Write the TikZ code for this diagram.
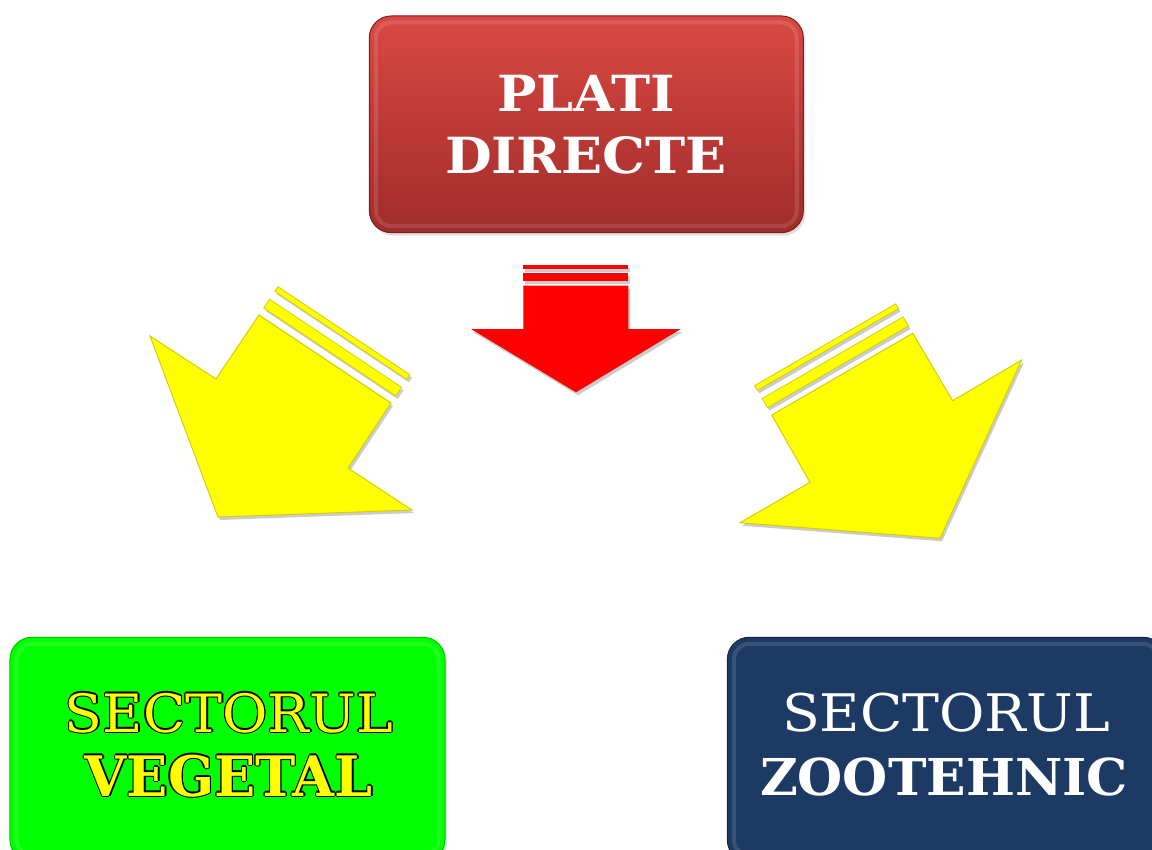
\documentclass[tikz,border=0pt]{standalone}
\usepackage{fontspec}
\usepackage{graphicx}
\setmainfont{DejaVu Serif}
\usetikzlibrary{calc,shadows}
\definecolor{redtop}{RGB}{218,72,66}
\definecolor{redbot}{RGB}{160,44,42}
\definecolor{arred}{RGB}{255,0,0}
\definecolor{ayel}{RGB}{255,255,0}
\definecolor{yedge}{RGB}{212,208,0}
\definecolor{vgreen}{RGB}{0,255,0}
\definecolor{gedge}{RGB}{0,200,0}
\definecolor{navy}{RGB}{29,58,100}
\definecolor{navyedge}{RGB}{20,40,72}
\newsavebox\fitbox
\newcommand\fitw[2]{\sbox\fitbox{#2}\pgfmathsetmacro\fitx{#1*1.00375/\the\wd\fitbox}\scalebox{\fitx}[1]{\usebox\fitbox}}
\newlength\ow
\setlength\ow{1.3pt}
\newcommand\olsh[3]{\makebox[0pt][l]{\hspace*{#1}\raisebox{#2}{\color{black}#3}}}
\newcommand\outl[1]{\olsh{\ow}{0pt}{#1}\olsh{-\ow}{0pt}{#1}\olsh{0pt}{\ow}{#1}\olsh{0pt}{-\ow}{#1}\olsh{.7\ow}{.7\ow}{#1}\olsh{-.7\ow}{.7\ow}{#1}\olsh{.7\ow}{-.7\ow}{#1}\olsh{-.7\ow}{-.7\ow}{#1}{\color{ayel}#1}}
\newcommand\stripe[5]{\fill[#5] ($(#1)!#3!90:(#2)$) -- ($(#2)!#3!-90:(#1)$) -- ($(#2)!#4!-90:(#1)$) -- ($(#1)!#4!90:(#2)$) -- cycle;}
\begin{document}
\begin{tikzpicture}[x=1bp,y=-1bp,
  txt/.style={inner sep=0pt, anchor=base},
  boxbase/.style={rounded corners=22bp, inner sep=0pt, line width=1bp,
     drop shadow={shadow xshift=2bp, shadow yshift=-3bp, opacity=.25}},
  bevel/.style={white, opacity=.12, line width=4bp, rounded corners=16bp},
  shad/.style={black!45, opacity=.45},
  yarrow/.style={fill=ayel, draw=yedge, line width=1bp, line join=miter},
  ystripe/.style={fill=ayel, draw=yedge, line width=.8bp},
  rarrow/.style={fill=arred}]
\useasboundingbox (0,0) rectangle (1152,850);
\fill[white] (0,0) rectangle (1152,850);

% boxes
\node[boxbase, top color=redtop, bottom color=redbot, draw=redbot!75!black,
      minimum width=434bp, minimum height=216.7bp] (pd) at (586.3,124.3) {};
\draw[bevel] ($(pd.south west)+(7,-7)$) rectangle ($(pd.north east)+(-7,7)$);
\node[boxbase, fill=vgreen, draw=gedge,
      minimum width=435bp, minimum height=224.7bp] (sv) at (227.5,749.6) {};
\draw[bevel] ($(sv.south west)+(7,-7)$) rectangle ($(sv.north east)+(-7,7)$);
\node[boxbase, fill=navy, draw=navyedge,
      minimum width=437.7bp, minimum height=224.7bp] (sz) at (946.2,749.6) {};
\draw[bevel] ($(sz.south west)+(7,-7)$) rectangle ($(sz.north east)+(-7,7)$);

% arrow coordinates
\coordinate (L1) at (150,336);
\coordinate (L2) at (216,379);
\coordinate (L3) at (259,315);
\coordinate (L4) at (391,403);
\coordinate (L5) at (348,468);
\coordinate (L6) at (412,510);
\coordinate (L7) at (218,517);
\coordinate (R1) at (740,522.7);
\coordinate (R2) at (810,482.3);
\coordinate (R3) at (771.7,415);
\coordinate (R4) at (912.7,333.3);
\coordinate (R5) at (952.7,400.7);
\coordinate (R6) at (1021.7,360);
\coordinate (R7) at (940,538.3);
\coordinate (A1) at (523.3,285.7);
\coordinate (A2) at (628.3,285.7);
\coordinate (A3) at (628.3,329);
\coordinate (A4) at (680.7,329);
\coordinate (A5) at (576,392.3);
\coordinate (A6) at (471,329);
\coordinate (A7) at (523.3,329);

% shadows of arrows
\begin{scope}[transform canvas={shift={(2bp,-3bp)}}]
  \fill[shad] (L1) -- (L2) -- (L3) -- (L4) -- (L5) -- (L6) -- (L7) -- cycle;
  \stripe{L3}{L4}{8.5bp}{19bp}{shad}
  \stripe{L3}{L4}{28.5bp}{34bp}{shad}
  \fill[shad] (R1) -- (R2) -- (R3) -- (R4) -- (R5) -- (R6) -- (R7) -- cycle;
  \stripe{R3}{R4}{8.5bp}{19bp}{shad}
  \stripe{R3}{R4}{28.5bp}{34bp}{shad}
  \fill[shad] (A1) -- (A2) -- (A3) -- (A4) -- (A5) -- (A6) -- (A7) -- cycle;
  \stripe{A1}{A2}{4.7bp}{12.4bp}{shad}
  \stripe{A1}{A2}{16.7bp}{20.7bp}{shad}
\end{scope}

% arrows
\filldraw[yarrow] (L1) -- (L2) -- (L3) -- (L4) -- (L5) -- (L6) -- (L7) -- cycle;
\stripe{L3}{L4}{8.5bp}{19bp}{ystripe}
\stripe{L3}{L4}{28.5bp}{34bp}{ystripe}
\filldraw[yarrow] (R1) -- (R2) -- (R3) -- (R4) -- (R5) -- (R6) -- (R7) -- cycle;
\stripe{R3}{R4}{8.5bp}{19bp}{ystripe}
\stripe{R3}{R4}{28.5bp}{34bp}{ystripe}
\fill[rarrow] (A1) -- (A2) -- (A3) -- (A4) -- (A5) -- (A6) -- (A7) -- cycle;
\stripe{A1}{A2}{4.7bp}{12.4bp}{rarrow}
\stripe{A1}{A2}{16.7bp}{20.7bp}{rarrow}

% texts
\node[txt, white] (t1) at (586,111.7) {\fitw{178}{\fontsize{50}{50}\selectfont\bfseries PLATI}};
\node[txt, white] (t2) at (586,173.3) {\fitw{282}{\fontsize{50}{50}\selectfont\bfseries DIRECTE}};
\node[txt] (t3) at (229,732) {\fitw{328}{\fontsize{53}{53}\selectfont\outl{SECTORUL}}};
\node[txt] (t4) at (229,796) {\fitw{288}{\fontsize{56}{56}\selectfont\bfseries\outl{VEGETAL}}};
\node[txt, white] (t5) at (946,731.7) {\fitw{328}{\fontsize{52}{52}\selectfont SECTORUL}};
\node[txt, white] (t6) at (944,795.7) {\fitw{368}{\fontsize{51}{51}\selectfont\bfseries ZOOTEHNIC}};
\end{tikzpicture}
\end{document}
